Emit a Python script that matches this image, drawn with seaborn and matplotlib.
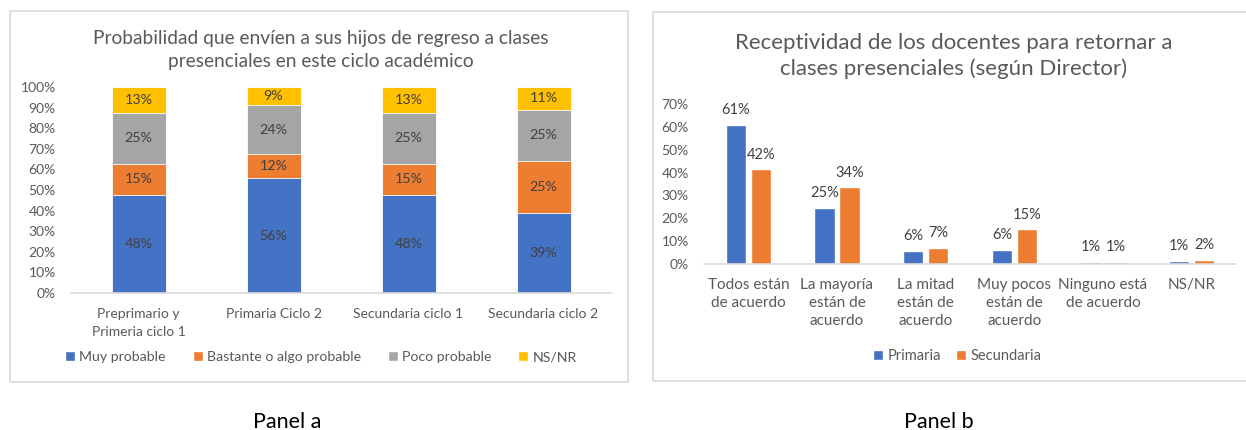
import matplotlib
matplotlib.use("Agg")
import matplotlib.pyplot as plt
import seaborn as sns
import pandas as pd
from matplotlib.patches import Rectangle, Patch

# ---------------- data ----------------
# Panel a (stacked, percentages)
cats_a = ["Preprimario y\nPrimeria ciclo 1", "Primaria Ciclo 2",
          "Secundaria ciclo 1", "Secundaria ciclo 2"]
series_a = ["Muy probable", "Bastante o algo probable", "Poco probable", "NS/NR"]
muy_probable = [47.6, 55.6, 47.6, 38.6]
bastante = [15.0, 11.8, 15.0, 25.4]
poco_probable = [24.8, 23.8, 24.8, 25.0]
nsnr_a = [12.6, 8.8, 12.6, 11.0]
title_a = "Probabilidad que envíen a sus hijos de regreso a clases\npresenciales en este ciclo académico"

# Panel b (grouped, percentages)
cats_b = ["Todos están\nde acuerdo", "La mayoría\nestán de\nacuerdo",
          "La mitad\nestán de\nacuerdo", "Muy pocos\nestán de\nacuerdo",
          "Ninguno está\nde acuerdo", "NS/NR"]
series_b = ["Primaria", "Secundaria"]
primaria = [61.0, 24.7, 5.8, 6.3, 0.9, 1.3]
secundaria = [41.5, 33.5, 7.2, 15.1, 0.9, 1.9]
title_b = "Receptividad de los docentes para retornar a\nclases presenciales (según Director)"

colors_a = ["#4472C4", "#ED7D31", "#A5A5A5", "#FFC000"]
colors_b = ["#4472C4", "#ED7D31"]

# ---------------- style ----------------
sns.set_theme(style="white")
plt.rcParams["font.family"] = ["Lato", "DejaVu Sans"]
TXT = "#595959"
LBL = "#404040"
GRID = "#D9D9D9"

W, H = 1246, 430
fig = plt.figure(figsize=(W / 100, H / 100), dpi=100)
fig.patch.set_facecolor("white")


def fx(x):
    return x / W


def fy(y):
    return 1 - y / H


def add_axes_px(left, top, right, bottom):
    return fig.add_axes([fx(left), fy(bottom), fx(right) - fx(left), (bottom - top) / H])


# frames
fig.patches.append(Rectangle((fx(9.5), fy(382)), fx(628) - fx(9.5), (382 - 11) / H,
                             transform=fig.transFigure, fill=False, edgecolor=GRID, lw=1.2))
fig.patches.append(Rectangle((fx(653), fy(381)), fx(1260) - fx(653), (381 - 12) / H,
                             transform=fig.transFigure, fill=False, edgecolor=GRID, lw=1.2))

# ---------------- Panel a ----------------
ax1 = add_axes_px(71, 87, 611, 293)
df_a = pd.DataFrame({"cat": cats_a, series_a[0]: muy_probable, series_a[1]: bastante,
                     series_a[2]: poco_probable, series_a[3]: nsnr_a})
cum = df_a[series_a].cumsum(axis=1)
# draw from the top of the stack down so each lower segment covers the previous
for i in range(len(series_a) - 1, -1, -1):
    sns.barplot(x=df_a["cat"], y=cum[series_a[i]], color=colors_a[i], width=0.4,
                saturation=1, ax=ax1, edgecolor="white", linewidth=0.6)
# segment labels
for j in range(len(cats_a)):
    base = 0
    for i, s in enumerate(series_a):
        v = df_a[s].iloc[j]
        ax1.text(j, base + v / 2, f"{v:.0f}%", ha="center", va="center",
                 fontsize=10.3, color=LBL)
        base += v
ax1.set_ylim(0, 100)
ax1.set_xlim(-0.5, 3.5)
ax1.set_yticks(range(0, 101, 10))
ax1.set_yticklabels([f"{t}%" for t in range(0, 101, 10)])
ax1.set_xlabel("")
ax1.set_ylabel("")
for sp in ["top", "right", "left"]:
    ax1.spines[sp].set_visible(False)
ax1.spines["bottom"].set_color(GRID)
ax1.spines["bottom"].set_linewidth(1.2)
ax1.tick_params(axis="y", length=0, pad=11, labelsize=10, labelcolor=TXT)
ax1.tick_params(axis="x", length=0, pad=11, labelsize=10, labelcolor=TXT)
for t in ax1.get_xticklabels():
    t.set_linespacing(1.62)

fig.text(fx(321), fy(50), title_a, ha="center", va="center", fontsize=13.8,
         color=TXT, linespacing=1.4)
handles_a = [Patch(facecolor=c, label=s) for c, s in zip(colors_a, series_a)]
fig.legend(handles=handles_a, loc="center", bbox_to_anchor=(fx(321), fy(357)), ncol=4,
           frameon=False, fontsize=10.2, labelcolor=TXT, handlelength=0.7,
           handleheight=0.7, handletextpad=0.3, columnspacing=1.9, borderaxespad=0)

# ---------------- Panel b ----------------
ax2 = add_axes_px(704, 104, 1236, 264)
df_b = pd.DataFrame({"cat": cats_b * 2,
                     "serie": [series_b[0]] * len(cats_b) + [series_b[1]] * len(cats_b),
                     "valor": primaria + secundaria})
sns.barplot(data=df_b, x="cat", y="valor", hue="serie", palette=colors_b, width=0.56,
            gap=0.18, saturation=1, ax=ax2, legend=False)
for cont in ax2.containers:
    ax2.bar_label(cont, fmt="%.0f%%", padding=5.5, fontsize=10.5, color=LBL)
ax2.set_ylim(0, 70)
ax2.set_xlim(-0.5, 5.5)
ax2.set_yticks(range(0, 71, 10))
ax2.set_yticklabels([f"{t}%" for t in range(0, 71, 10)])
ax2.set_xlabel("")
ax2.set_ylabel("")
for sp in ["top", "right", "left"]:
    ax2.spines[sp].set_visible(False)
ax2.spines["bottom"].set_color(GRID)
ax2.spines["bottom"].set_linewidth(1.2)
ax2.tick_params(axis="y", length=0, pad=11, labelsize=10, labelcolor=TXT)
ax2.tick_params(axis="x", length=0, pad=10, labelsize=11, labelcolor=TXT)
for t in ax2.get_xticklabels():
    t.set_linespacing(1.37)

fig.text(fx(954), fy(56), title_b, ha="center", va="center", fontsize=16,
         color=TXT, linespacing=1.36)
handles_b = [Patch(facecolor=c, label=s) for c, s in zip(colors_b, series_b)]
fig.legend(handles=handles_b, loc="center", bbox_to_anchor=(fx(957), fy(356)), ncol=2,
           frameon=False, fontsize=10.5, labelcolor=TXT, handlelength=0.7,
           handleheight=0.7, handletextpad=0.3, columnspacing=1.0, borderaxespad=0)

# panel captions
fig.text(fx(287), fy(422), "Panel a", ha="center", va="center", fontsize=15.5, color="black")
fig.text(fx(939), fy(422), "Panel b", ha="center", va="center", fontsize=15.5, color="black")

fig.savefig("out.png", dpi=100, facecolor="white")
